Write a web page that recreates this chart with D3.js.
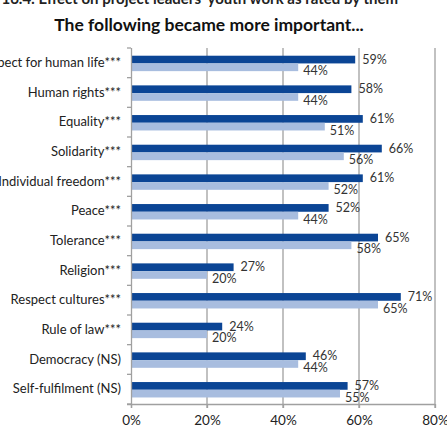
<!DOCTYPE html>
<html><head><meta charset="utf-8">
<script src="https://cdn.jsdelivr.net/npm/d3@7"></script>
<style>body{margin:0;background:#fff;overflow:hidden}svg{display:block}</style>
</head><body>
<script>
const categories = ["Respect for human life***","Human rights***","Equality***","Solidarity***","Individual freedom***","Peace***","Tolerance***","Religion***","Respect cultures***","Rule of law***","Democracy (NS)","Self-fulfilment (NS)"];
const seriesDark = [59,58,61,66,61,52,65,27,71,24,46,57];
const seriesLight = [44,44,51,56,52,44,58,20,65,20,44,55];
const xTicks = [0,20,40,60,80];
const topTitle = "Figure 16.4: Effect on project leaders' youth work as rated by them";
const title = "The following became more important...";

const W=447,H=438;
const svg=d3.select("body").append("svg").attr("width",W).attr("height",H);
const font="Lato, sans-serif";
const x=d3.scaleLinear().domain([0,80]).range([131,435]);
const y=d3.scaleBand().domain(categories).range([48,404]);
const bw=y.bandwidth();
const barH=bw*0.26;
const off=bw*0.26;

svg.append("text").attr("x",398).attr("y",4).attr("text-anchor","end")
  .attr("font-family",font).attr("font-weight","bold").attr("font-size",15).attr("fill","#222").text(topTitle);
svg.append("text").attr("x",209).attr("y",31).attr("text-anchor","middle")
  .attr("font-family",font).attr("font-weight","bold").attr("font-size",17.5).attr("fill","#111").text(title);

// gridlines
svg.append("g").selectAll("line").data(xTicks.slice(1)).join("line")
  .attr("x1",d=>x(d)).attr("x2",d=>x(d)).attr("y1",48).attr("y2",408)
  .attr("stroke","#a0a0a0").attr("stroke-width",1.3);

// bars
svg.append("g").selectAll("rect").data(categories).join("rect")
  .attr("x",x(0)).attr("y",d=>y(d)+off).attr("height",barH)
  .attr("width",(d,i)=>x(seriesDark[i])-x(0)).attr("fill","#0b4595");
svg.append("g").selectAll("rect").data(categories).join("rect")
  .attr("x",x(0)).attr("y",d=>y(d)+off+barH).attr("height",barH)
  .attr("width",(d,i)=>x(seriesLight[i])-x(0)).attr("fill","#a8bddf");

// x axis
const xa=svg.append("g").attr("transform","translate(0,404)")
  .call(d3.axisBottom(x).tickValues(xTicks).tickFormat(d=>d+"%").tickSize(4).tickPadding(7));
xa.select(".domain").attr("stroke","#a0a0a0").attr("stroke-width",1.3).attr("d","M127,0.5H435");
xa.selectAll(".tick line").attr("stroke","#a0a0a0").attr("stroke-width",1.3);
xa.selectAll("text").attr("font-family",font).attr("font-size",13.5).attr("fill","#222");

// y axis
const ya=svg.append("g").attr("transform","translate(131,0)")
  .call(d3.axisLeft(y).tickSize(0).tickPadding(10));
ya.select(".domain").attr("stroke","#a0a0a0").attr("stroke-width",1.3).attr("d","M0.5,48V408");
ya.selectAll("text").attr("font-family",font).attr("font-size",13).attr("fill","#222");
const bounds=y.domain().map(d=>y(d)).concat([404]);
svg.append("g").selectAll("line").data(bounds).join("line")
  .attr("x1",127).attr("x2",131).attr("y1",d=>d).attr("y2",d=>d)
  .attr("stroke","#a0a0a0").attr("stroke-width",1.3);

// labels
svg.append("g").selectAll("text").data(categories).join("text")
  .attr("x",(d,i)=>x(seriesDark[i])+7).attr("y",d=>y(d)+off+barH/2+4)
  .attr("font-family",font).attr("font-size",12.5).attr("fill","#333")
  .text((d,i)=>seriesDark[i]+"%");
svg.append("g").selectAll("text").data(categories).join("text")
  .attr("x",(d,i)=>x(seriesLight[i])+5).attr("y",d=>y(d)+off+barH*1.5+8)
  .attr("font-family",font).attr("font-size",12.5).attr("fill","#333")
  .text((d,i)=>seriesLight[i]+"%");
</script>
</body></html>
